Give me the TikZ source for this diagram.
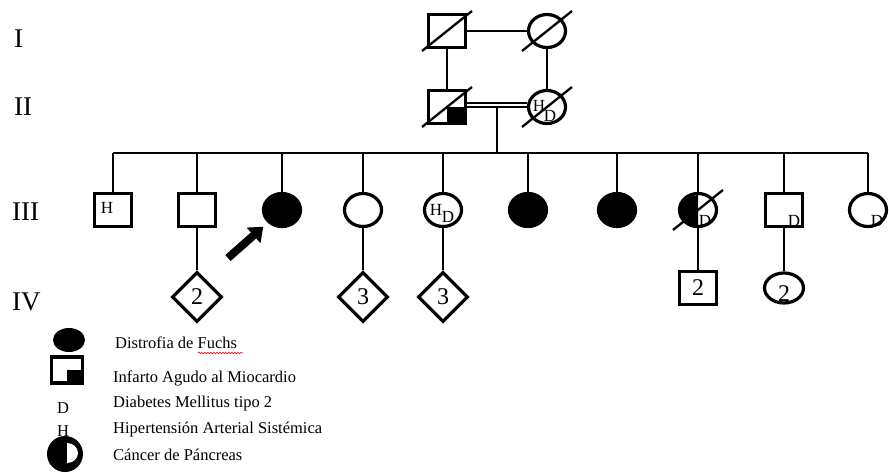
\documentclass[tikz,border=0pt]{standalone}
\usepackage{fontspec}
\setmainfont{Liberation Serif}
\usetikzlibrary{arrows.meta,calc,shapes.geometric,decorations.pathmorphing}

\begin{document}
\begin{tikzpicture}[
  x=1pt,y=-1pt,
  line/.style={draw,line width=2.3pt},
  malebox/.style={draw,rectangle,line width=3.2pt,minimum width=37pt,minimum height=33pt,inner sep=0pt},
  femalebox/.style={draw,ellipse,line width=3.2pt,minimum width=37pt,minimum height=33pt,inner sep=0pt},
  unknownbox/.style={draw,diamond,aspect=1,line width=3.2pt,minimum size=50pt,inner sep=0pt},
  affected/.style={fill=black},
  slash/.style={draw,line width=2.3pt},
  consang/.style={draw,line width=1.5pt,double=white,double distance=2.5pt},
  proband/.style={draw,line width=8pt,-{Triangle[width=20pt,length=13pt]},shorten >=6pt},
  gen/.style={anchor=base west,inner sep=0pt,font=\fontsize{27}{30}\selectfont},
  dxlabel/.style={inner sep=0pt,font=\fontsize{17}{19}\selectfont},
  num/.style={font=\fontsize{24}{26}\selectfont},
  legtext/.style={anchor=base west,inner sep=0pt,font=\fontsize{16.5}{18}\selectfont}
]
  \useasboundingbox (0,0) rectangle (889,472);
  \node[gen] (gI) at (14,47) {I};
  \node[gen] (gII) at (14,115) {II};
  \node[gen] (gIII) at (12,220) {III};
  \node[gen] (gIV) at (12,310) {IV};

  \node[malebox] (I1) at (447,31) {};
  \node[femalebox] (I2) at (547,31) {};
  \node[malebox] (II1) at (447,107) {};
  \node[femalebox] (II2) at (547,107) {};
  \fill (II1.center) rectangle (II1.south east);
  \node[dxlabel] (hII2) at (539,106) {H};
  \node[dxlabel] (dII2) at (550,116) {D};
  \draw[line] (I1) -- (I2);
  \draw[line] (I1) -- (II1);
  \draw[line] (I2) -- (II2);
  \draw[consang] ([yshift=2pt]II1.east) -- ([yshift=2pt]II2.west);
  \coordinate (mate) at (497,107);
  \coordinate (sib) at (497,153);
  \draw[line] (mate) -- (sib);

  \node[malebox] (III1) at (113,210) {};
  \node[malebox] (III2) at (197,210) {};
  \node[femalebox,affected] (III3) at (282,210) {};
  \node[femalebox] (III4) at (363,210) {};
  \node[femalebox] (III5) at (443,210) {};
  \node[femalebox,affected] (III6) at (528,210) {};
  \node[femalebox,affected] (III7) at (617,210) {};
  \node[femalebox] (III8) at (698,210) {};
  \node[malebox] (III9) at (784,210) {};
  \node[femalebox] (III10) at (868,210) {};
  \fill (III8.south) arc[start angle=90,end angle=270,x radius=18.5,y radius=16.5] -- cycle;
  \draw[line] (III1 |- sib) -- (III10 |- sib);
  \foreach \i in {1,...,10}{
    \draw[line] (III\i |- sib) -- (III\i);
  }
  \foreach \p in {I1,I2,II1,II2,III8}{
    \draw[slash] ($(\p)+(-25,20)$) -- ($(\p)+(25,-20)$);
  }
  \node[dxlabel] (hIII1) at (107,208) {H};
  \node[dxlabel] (hIII5) at (436,210) {H};
  \node[dxlabel] (dIII5) at (448,217) {D};
  \node[dxlabel] (dIII8) at (705,221) {D};
  \node[dxlabel] (dIII9) at (794,221) {D};
  \node[dxlabel] (dIII10) at (877,221) {D};

  \node[unknownbox,num] (IV1) at (197,297) {2};
  \node[unknownbox,num] (IV2) at (363,297) {3};
  \node[unknownbox,num] (IV3) at (443,297) {3};
  \node[malebox,num] (IV4) at (698,288) {2};
  \node[femalebox,num,minimum width=39pt,minimum height=30pt] (IV5) at (784,288) {};
  \node[num] (nIV5) at (784,294) {2};
  \draw[line] (III2) -- (IV1);
  \draw[line] (III4) -- (IV2);
  \draw[line] (III5) -- (IV3);
  \draw[line] (III8) -- (IV4);
  \draw[line] (III9) -- (IV5);

  \coordinate (ptail) at (228,258);
  \draw[proband] (ptail) -- (III3.south west);

  \node[ellipse,affected,minimum width=32pt,minimum height=24pt,inner sep=0pt] (k1) at (69,340) {};
  \node[malebox,line width=3.8pt,minimum width=31pt,minimum height=26pt] (k2) at (67,370) {};
  \fill (k2.center) rectangle (k2.south east);
  \node[legtext] (k3) at (57,413) {D};
  \node[legtext] (k4) at (57,436) {H};
  \node[ellipse,affected,minimum width=36pt,minimum height=36pt,inner sep=0pt] (k5) at (65,454) {};
  \fill[white] (67,443) arc[start angle=270,end angle=450,x radius=11,y radius=10] -- cycle;

  \node[legtext] (t1) at (115,348) {Distrofia de Fuchs};
  \node[legtext] (t2) at (113,382) {Infarto Agudo al Miocardio};
  \node[legtext] (t3) at (113,407) {Diabetes Mellitus tipo 2};
  \node[legtext] (t4) at (113,433) {Hipertensión Arterial Sistémica};
  \node[legtext] (t5) at (113,460) {Cáncer de Páncreas};
  \draw[red,line width=.6pt,decorate,decoration={snake,segment length=3pt,amplitude=.8pt}] (198,353) -- (243,353);
\end{tikzpicture}
\end{document}
